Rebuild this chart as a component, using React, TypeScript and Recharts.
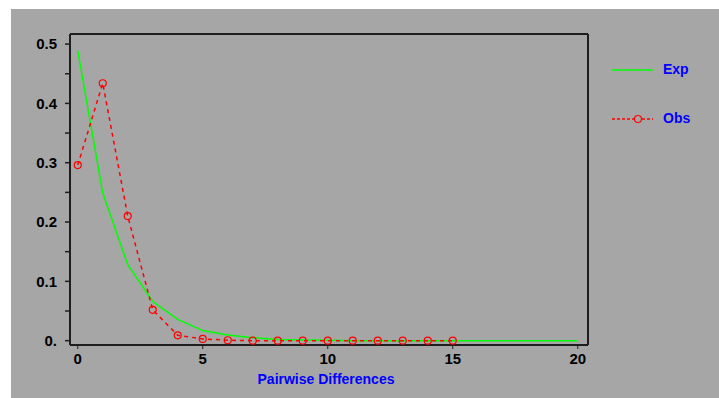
import { LineChart, Line, XAxis, YAxis, Legend, ReferenceLine } from 'recharts'

// pairwise differences 0..20
const diffs = [0, 1, 2, 3, 4, 5, 6, 7, 8, 9, 10, 11, 12, 13, 14, 15, 16, 17, 18, 19, 20]
const expected = [0.489, 0.249, 0.128, 0.066, 0.036, 0.017, 0.0095, 0.005, 0.002, 0.001, 0.0005, 0, 0, 0, 0, 0, 0, 0, 0, 0, 0]
const observed = [0.296, 0.434, 0.21, 0.052, 0.009, 0.003, 0.0007, 0, 0, 0, 0, 0, 0, 0, 0, 0]

const xTicks = [0, 5, 10, 15, 20]
const yTicks = [0, 0.05, 0.1, 0.15, 0.2, 0.25, 0.3, 0.35, 0.4, 0.45, 0.5]
const xDomain = [-0.31, 20.41]
const yDomain = [-0.0073, 0.517]

const data = diffs.map((d, i) => ({ d, exp: expected[i], obs: observed[i] }))

const BG = '#a6a6a6'
const AXIS = '#1e1e1e'
const font = '"Liberation Sans", Arial, sans-serif'

const fmtY = (v: number) => {
  const n = Math.round(v * 20)
  if (n % 2 === 1) return ''
  if (n === 0) return '0.'
  return v.toFixed(1)
}

function LegendBox(props: any) {
  const items = props.payload || []
  return (
    <div style={{ fontFamily: font }}>
      {items.map((it: any) => {
        const dashed = !!it.payload?.strokeDasharray
        return (
          <div key={it.value} style={{ position: 'relative', height: 49 }}>
            <svg width={50} height={12} style={{ position: 'absolute', left: 0, top: 0 }}>
              <line x1={0} y1={6} x2={41} y2={6} stroke={it.color} strokeWidth={1.5} strokeDasharray={dashed ? '3 2' : undefined} />
              {dashed && <circle cx={26} cy={6} r={3.5} fill={BG} stroke={it.color} strokeWidth={1.2} />}
            </svg>
            <span style={{ position: 'absolute', left: 51, top: -3, color: '#0000ff', fontWeight: 'bold', fontSize: 14 }}>{it.value}</span>
          </div>
        )
      })}
    </div>
  )
}

export default function App() {
  return (
    <div style={{ position: 'absolute', left: 0, top: 0, width: 719, height: 398, background: '#fff', overflow: 'hidden' }}>
      <div style={{ position: 'absolute', left: 11, top: 9, width: 708, height: 389, background: BG }}>
        <LineChart width={708} height={389} data={data} margin={{ top: 25, right: 131, bottom: 0, left: 0 }}>
          <XAxis
            dataKey="d"
            type="number"
            domain={xDomain}
            ticks={xTicks}
            allowDataOverflow
            height={53}
            stroke={AXIS}
            axisLine={{ stroke: AXIS, strokeWidth: 2 }}
            tickLine={{ stroke: AXIS, strokeWidth: 1 }}
            tickSize={4}
            tickMargin={4}
            tick={{ fill: '#000', fontSize: 15, fontWeight: 'bold', fontFamily: font }}
            label={{ value: 'Pairwise Differences', position: 'insideBottom', offset: 14, dx: -3, fill: '#0000ff', fontSize: 14, fontWeight: 'bold', fontFamily: font }}
          />
          <YAxis
            type="number"
            domain={yDomain}
            ticks={yTicks}
            allowDataOverflow
            width={59}
            interval={0}
            tickFormatter={fmtY}
            axisLine={{ stroke: AXIS, strokeWidth: 2 }}
            tickLine={{ stroke: AXIS, strokeWidth: 1.5 }}
            tickSize={5}
            tickMargin={8}
            tick={{ fill: '#000', fontSize: 15, fontWeight: 'bold', fontFamily: font }}
          />
          <ReferenceLine y={yDomain[1]} stroke={AXIS} strokeWidth={2} ifOverflow="visible" />
          <ReferenceLine x={xDomain[1]} stroke={AXIS} strokeWidth={2} ifOverflow="visible" />
          <Legend
            layout="horizontal"
            align="center"
            verticalAlign="middle"
            content={<LegendBox />}
            wrapperStyle={{ left: 601, top: 55, width: 100, height: 100 }}
          />
          <Line
            name="Exp"
            dataKey="exp"
            type="linear"
            stroke="#00ff00"
            strokeWidth={1.5}
            dot={false}
            isAnimationActive={false}
          />
          <Line
            name="Obs"
            dataKey="obs"
            type="linear"
            stroke="#ff0000"
            strokeWidth={1.5}
            strokeDasharray="4 4"
            dot={{ r: 3.5, fill: 'none', stroke: '#ff0000', strokeWidth: 1.2, strokeDasharray: '' }}
            isAnimationActive={false}
          />
        </LineChart>
      </div>
    </div>
  )
}
